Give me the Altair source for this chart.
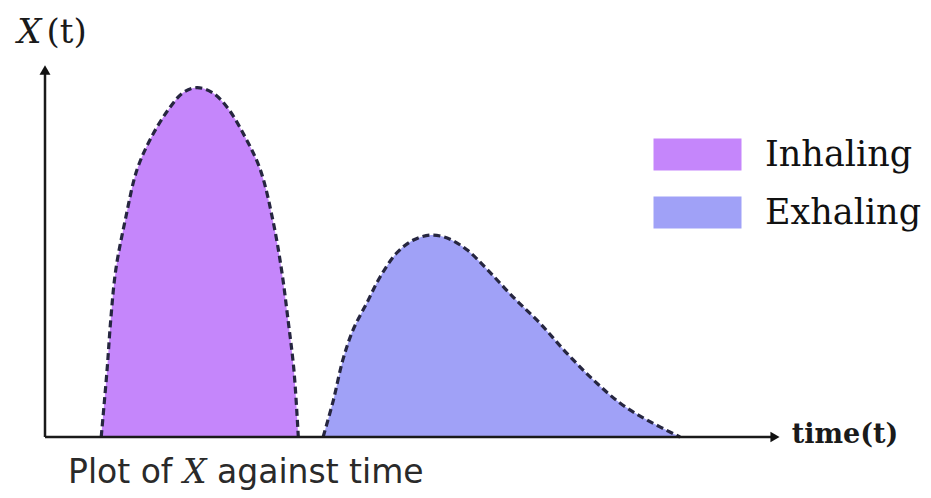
import altair as alt
import pandas as pd

# ---- data (time units 0..10, X(t) units 0..5) ----
phases = ["Inhaling", "Exhaling"]
phase_colors = ["#c586fb", "#a0a1f7"]

inhale_t = [0.77, 0.85, 0.90, 0.97, 1.10, 1.26, 1.46, 1.69, 1.89, 2.08,
            2.28, 2.49, 2.74, 2.95, 3.12, 3.24, 3.33, 3.41, 3.47]
inhale_x = [0.00, 0.91, 1.59, 2.28, 2.96, 3.64, 4.09, 4.46, 4.69, 4.76,
            4.70, 4.50, 4.09, 3.64, 2.96, 2.28, 1.59, 0.91, 0.00]

exhale_t = [3.81, 3.95, 4.08, 4.22, 4.41, 4.59, 4.82, 5.04, 5.27, 5.51,
            5.78, 6.06, 6.41, 6.78, 7.15, 7.51, 7.88, 8.25, 8.70]
exhale_x = [0.00, 0.50, 1.05, 1.46, 1.83, 2.18, 2.51, 2.68, 2.75, 2.71,
            2.55, 2.28, 1.91, 1.55, 1.14, 0.78, 0.46, 0.23, 0.00]

t_domain = [0, 10]
x_domain = [0, 5]

# annotation texts (positions in data units)
y_label_sym = "X"
y_label_rest = "(t)"
x_label = "time(t)"
caption_a = "Plot of"
caption_x = "X"
caption_b = "against time"

curve = pd.DataFrame({
    "t": inhale_t + exhale_t,
    "x": inhale_x + exhale_x,
    "phase": ["Inhaling"] * len(inhale_t) + ["Exhaling"] * len(exhale_t),
})

X = lambda f="t": alt.X(f, type="quantitative", axis=None,
                        scale=alt.Scale(domain=t_domain, nice=False, zero=False))
Y = lambda f="x": alt.Y(f, type="quantitative", axis=None, stack=None,
                        scale=alt.Scale(domain=x_domain, nice=False, zero=False))

legend_path = "M-1,-1H4.5V1H-1Z"

area = alt.Chart(curve).mark_area(interpolate="catmull-rom", opacity=1).encode(
    x=X(), y=Y(),
    color=alt.Color("phase:N",
                    scale=alt.Scale(domain=phases, range=phase_colors),
                    sort=phases,
                    legend=alt.Legend(
                        title=None, orient="none", legendX=607, legendY=67,
                        symbolType=legend_path, symbolSize=1024,
                        symbolStrokeWidth=0, symbolOpacity=1,
                        labelOffset=78, labelFont="DejaVu Serif",
                        labelFontSize=35, labelColor="#111111",
                        labelLimit=400, rowPadding=22, padding=0)),
)

outline = alt.Chart(curve).mark_line(
    interpolate="catmull-rom", color="#262640", strokeWidth=3.2,
    strokeDash=[7, 4]).encode(x=X(), y=Y(), detail="phase:N")

axes_df = pd.DataFrame({"t": [0, 0], "t2": [0, 10], "x": [0, 0], "x2": [5, 0]})
axes = alt.Chart(axes_df).mark_rule(color="#1a1a1a", strokeWidth=2.5).encode(
    x=X(), x2="t2", y=Y(), y2="x2")

arrow_up = alt.Chart(pd.DataFrame({"t": [0], "x": [5]})).mark_point(
    shape="triangle-up", filled=True, size=120, color="#111111", opacity=1
).encode(x=X(), y=Y())
arrow_right = alt.Chart(pd.DataFrame({"t": [10], "x": [0]})).mark_point(
    shape="triangle-right", filled=True, size=110, color="#111111", opacity=1
).encode(x=X(), y=Y())

def label(text, t, x, font, size, style="normal", weight="normal", color="#1a1a1a"):
    return alt.Chart(pd.DataFrame({"t": [t], "x": [x], "s": [text]})).mark_text(
        align="left", baseline="alphabetic", font=font, fontSize=size,
        fontStyle=style, fontWeight=weight, color=color
    ).encode(x=X(), y=Y(), text="s:N")

texts = [
    label(y_label_sym, -0.38, 5.37, "DejaVu Serif", 34, style="italic"),
    label(y_label_rest, 0.02, 5.37, "DejaVu Serif", 34),
    label(x_label, 10.23, -0.08, "DejaVu Serif", 27, weight="bold"),
    label(caption_a, 0.315, -0.63, "DejaVu Sans", 33, color="#2a2a2a"),
    label(caption_x, 1.89, -0.63, "DejaVu Serif", 33, style="italic", color="#2a2a2a"),
    label(caption_b, 2.356, -0.63, "DejaVu Sans", 33, color="#2a2a2a"),
]

chart = alt.layer(area, outline, axes, arrow_up, arrow_right, *texts).properties(
    width=730, height=367,
    autosize=alt.AutoSizeParams(type="none"),
    padding={"left": 37, "top": 62, "right": 148, "bottom": 53},
    background="white",
).configure_view(stroke=None)

chart.save("out.html", embed_options={"renderer": "svg", "actions": False})
